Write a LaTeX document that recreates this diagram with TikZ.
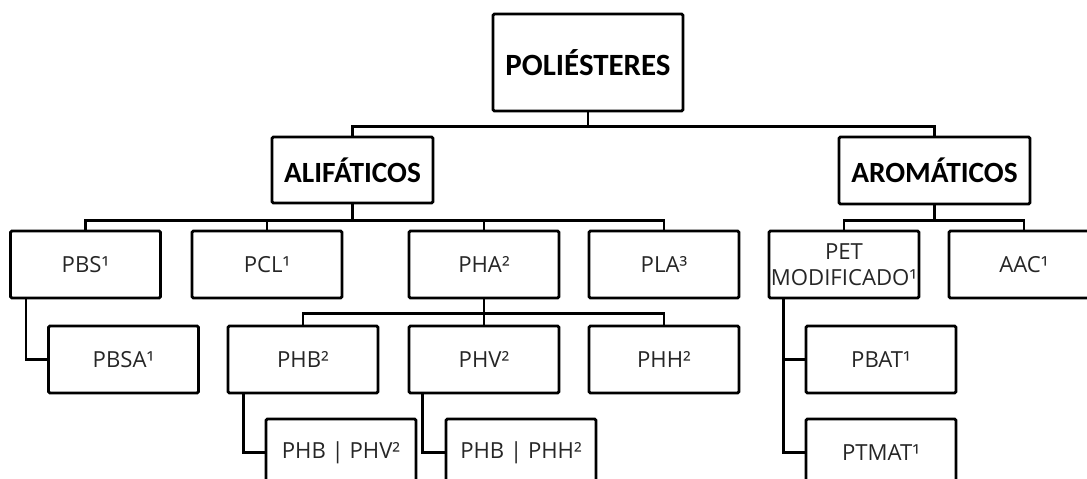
\documentclass[tikz,border=0pt]{standalone}
\usepackage{fontspec}
\setmainfont{Open Sans}
\newfontfamily\headfont{Carlito}

\begin{document}
\begin{tikzpicture}[x=0.2mm,y=-0.2mm,
    box/.style={draw,line width=1.6pt,rounded corners=0.8pt,minimum width=30mm,minimum height=13.4mm,
      inner sep=0.5pt,align=center,text=black!85,font=\fontsize{12.6}{14.8}\selectfont},
    head/.style={box,text=black,font=\headfont\bfseries\fontsize{16.7}{19}\selectfont},
    link/.style={line width=1.6pt}]
    \clip (0,0) rectangle (1087,479);
    % top levels
    \node[head,minimum width=38mm,minimum height=19.4mm,font=\headfont\bfseries\fontsize{17.6}{20}\selectfont] (poli) at (588,62.5) {POLIÉSTERES};
    \node[head,minimum width=32.2mm,minimum height=13.2mm] (alif) at (352.5,170) {ALIFÁTICOS};
    \node[head,minimum width=38.2mm,minimum height=13.4mm] (arom) at (934.5,170.5) {AROMÁTICOS};
    % third row
    \node[box] (pbs) at (85.5,264.5) {PBS¹};
    \node[box] (pcl) at (267,264.5) {PCL¹};
    \node[box] (pha) at (484,264.5) {PHA²};
    \node[box] (pla) at (664,264.5) {PLA³};
    \node[box] (pet) at (844,264.5) {PET\\MODIFICADO¹};
    \node[box] (aac) at (1024,264.5) {AAC¹};
    % fourth row
    \node[box] (pbsa) at (123.5,359.5) {PBSA¹};
    \node[box] (phb) at (303,359.5) {PHB²};
    \node[box] (phv) at (484,359.5) {PHV²};
    \node[box] (phh) at (664,359.5) {PHH²};
    \node[box] (pbat) at (881,359.5) {PBAT¹};
    % fifth row (cut at the bottom)
    \node[box] (phbphv) at (341,452.5) {PHB | PHV²};
    \node[box] (phbphh) at (521,452.5) {PHB | PHH²};
    \node[box] (ptmat) at (881,452.5) {PTMAT¹};
    % connectors
    \draw[link] (poli.south) -- ++(0,14) -| (alif.north);
    \draw[link] (poli.south) -- ++(0,14) -| (arom.north);
    \foreach \n in {pbs,pcl,pha,pla}
      \draw[link] (alif.south) -- ++(0,16) -| (\n.north);
    \foreach \n in {pet,aac}
      \draw[link] (arom.south) -- ++(0,15) -| (\n.north);
    \foreach \n in {phb,phv,phh}
      \draw[link] (pha.south) -- ++(0,14) -| (\n.north);
    \draw[link] (pbs.south west) ++(17,0) |- (pbsa.west);
    \draw[link] (phb.south west) ++(17,0) |- (phbphv.west);
    \draw[link] (phv.south west) ++(15,0) |- (phbphh.west);
    \foreach \n in {pbat,ptmat}
      \draw[link] (pet.south west) ++(16,0) |- (\n.west);
\end{tikzpicture}
\end{document}
